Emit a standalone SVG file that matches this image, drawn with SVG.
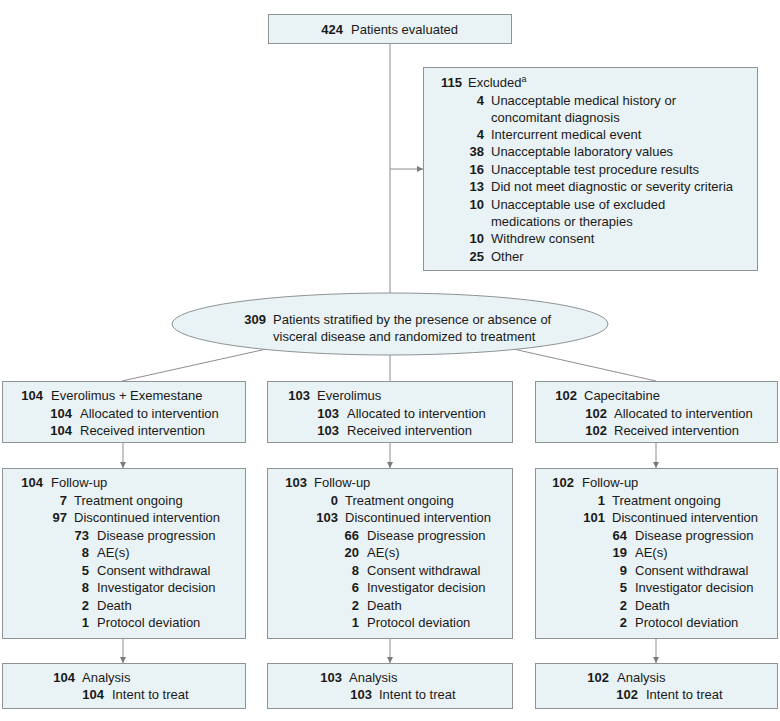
<svg xmlns="http://www.w3.org/2000/svg" width="780" height="721" viewBox="0 0 780 721">
<style>
.box{fill:#e9f2f4;stroke:#8e9394;stroke-width:1}
.ln{stroke:#8e8e8e;stroke-width:1;fill:none}
text{font-family:"Liberation Sans",Arial,sans-serif;font-size:13px;fill:#1a1a1a}
.n{font-weight:bold;text-anchor:end}
</style>
<defs>
<marker id="ah" viewBox="0 0 10 10" refX="10" refY="5" markerWidth="6" markerHeight="6" markerUnits="userSpaceOnUse" orient="auto">
<path d="M0,0 L10,5 L0,10 z" fill="#7a7a7a"/>
</marker>
</defs>
<rect width="780" height="721" fill="#ffffff"/>
<g id="connectors">
<line class="ln" x1="390" y1="43" x2="390" y2="300"/>
<line class="ln" x1="390" y1="169" x2="423" y2="169" marker-end="url(#ah)"/>
<line class="ln" x1="390" y1="350" x2="390" y2="381"/>
<line class="ln" x1="280" y1="346" x2="122" y2="381"/>
<line class="ln" x1="500" y1="346" x2="656" y2="381"/>
<line class="ln" x1="123" y1="442" x2="123" y2="468" marker-end="url(#ah)"/>
<line class="ln" x1="390" y1="442" x2="390" y2="468" marker-end="url(#ah)"/>
<line class="ln" x1="656" y1="442" x2="656" y2="468" marker-end="url(#ah)"/>
<line class="ln" x1="123" y1="638" x2="123" y2="663" marker-end="url(#ah)"/>
<line class="ln" x1="390" y1="638" x2="390" y2="663" marker-end="url(#ah)"/>
<line class="ln" x1="656" y1="638" x2="656" y2="663" marker-end="url(#ah)"/>
</g>
<g id="evaluated">
<rect class="box" x="268.5" y="14.5" width="243" height="29"/>
<text class="n" x="343" y="34">424</text><text x="351" y="34">Patients evaluated</text>
</g>
<g id="excluded">
<rect class="box" x="423.5" y="67.5" width="334" height="203"/>
<text class="n" x="462" y="87">115</text><text x="468" y="87">Excluded<tspan font-size="9" dy="-5">a</tspan></text>
<text class="n" x="484" y="104.5">4</text><text x="491" y="104.5">Unacceptable medical history or</text>
<text x="491" y="121.8">concomitant diagnosis</text>
<text class="n" x="484" y="139">4</text><text x="491" y="139">Intercurrent medical event</text>
<text class="n" x="484" y="156.4">38</text><text x="491" y="156.4">Unacceptable laboratory values</text>
<text class="n" x="484" y="173.8">16</text><text x="491" y="173.8">Unacceptable test procedure results</text>
<text class="n" x="484" y="191.2">13</text><text x="491" y="191.2">Did not meet diagnostic or severity criteria</text>
<text class="n" x="484" y="208.6">10</text><text x="491" y="208.6">Unacceptable use of excluded</text>
<text x="491" y="226">medications or therapies</text>
<text class="n" x="484" y="243.4">10</text><text x="491" y="243.4">Withdrew consent</text>
<text class="n" x="484" y="260.8">25</text><text x="491" y="260.8">Other</text>
</g>
<g id="randomized">
<ellipse class="box" cx="390" cy="324" rx="218" ry="31"/>
<text class="n" x="266" y="324">309</text><text x="273" y="324">Patients stratified by the presence or absence of</text>
<text x="273" y="341">visceral disease and randomized to treatment</text>
</g>
<g id="arm1">
<rect class="box" x="2.5" y="381.5" width="243" height="61"/>
<text class="n" x="43" y="400">104</text><text x="51" y="400">Everolimus + Exemestane</text>
<text class="n" x="72" y="417.5">104</text><text x="80" y="417.5">Allocated to intervention</text>
<text class="n" x="72" y="435">104</text><text x="80" y="435">Received intervention</text>
</g>
<g id="arm2">
<rect class="box" x="267.5" y="381.5" width="245" height="61"/>
<text class="n" x="310" y="400">103</text><text x="317" y="400">Everolimus</text>
<text class="n" x="339" y="417.5">103</text><text x="347" y="417.5">Allocated to intervention</text>
<text class="n" x="339" y="435">103</text><text x="347" y="435">Received intervention</text>
</g>
<g id="arm3">
<rect class="box" x="535.5" y="381.5" width="242" height="61"/>
<text class="n" x="577" y="400">102</text><text x="584" y="400">Capecitabine</text>
<text class="n" x="607" y="417.5">102</text><text x="614" y="417.5">Allocated to intervention</text>
<text class="n" x="607" y="435">102</text><text x="614" y="435">Received intervention</text>
</g>
<g id="followup1">
<rect class="box" x="2.5" y="468.5" width="243" height="170"/>
<text class="n" x="43" y="487">104</text><text x="51" y="487">Follow-up</text>
<text class="n" x="67" y="504.5">7</text><text x="74" y="504.5">Treatment ongoing</text>
<text class="n" x="67" y="522">97</text><text x="74" y="522">Discontinued intervention</text>
<text class="n" x="89" y="539.5">73</text><text x="97" y="539.5">Disease progression</text>
<text class="n" x="89" y="557">8</text><text x="97" y="557">AE(s)</text>
<text class="n" x="89" y="574.5">5</text><text x="97" y="574.5">Consent withdrawal</text>
<text class="n" x="89" y="592">8</text><text x="97" y="592">Investigator decision</text>
<text class="n" x="89" y="609.5">2</text><text x="97" y="609.5">Death</text>
<text class="n" x="89" y="627">1</text><text x="97" y="627">Protocol deviation</text>
</g>
<g id="followup2">
<rect class="box" x="267.5" y="468.5" width="245" height="170"/>
<text class="n" x="307" y="487">103</text><text x="314" y="487">Follow-up</text>
<text class="n" x="338" y="504.5">0</text><text x="345" y="504.5">Treatment ongoing</text>
<text class="n" x="338" y="522">103</text><text x="345" y="522">Discontinued intervention</text>
<text class="n" x="359" y="539.5">66</text><text x="367" y="539.5">Disease progression</text>
<text class="n" x="359" y="557">20</text><text x="367" y="557">AE(s)</text>
<text class="n" x="359" y="574.5">8</text><text x="367" y="574.5">Consent withdrawal</text>
<text class="n" x="359" y="592">6</text><text x="367" y="592">Investigator decision</text>
<text class="n" x="359" y="609.5">2</text><text x="367" y="609.5">Death</text>
<text class="n" x="359" y="627">1</text><text x="367" y="627">Protocol deviation</text>
</g>
<g id="followup3">
<rect class="box" x="535.5" y="468.5" width="242" height="170"/>
<text class="n" x="574" y="487">102</text><text x="582" y="487">Follow-up</text>
<text class="n" x="605" y="504.5">1</text><text x="612" y="504.5">Treatment ongoing</text>
<text class="n" x="605" y="522">101</text><text x="612" y="522">Discontinued intervention</text>
<text class="n" x="627" y="539.5">64</text><text x="635" y="539.5">Disease progression</text>
<text class="n" x="627" y="557">19</text><text x="635" y="557">AE(s)</text>
<text class="n" x="627" y="574.5">9</text><text x="635" y="574.5">Consent withdrawal</text>
<text class="n" x="627" y="592">5</text><text x="635" y="592">Investigator decision</text>
<text class="n" x="627" y="609.5">2</text><text x="635" y="609.5">Death</text>
<text class="n" x="627" y="627">2</text><text x="635" y="627">Protocol deviation</text>
</g>
<g id="analysis1">
<rect class="box" x="2.5" y="663.5" width="243" height="45"/>
<text class="n" x="75" y="682">104</text><text x="82" y="682">Analysis</text>
<text class="n" x="104" y="699">104</text><text x="112" y="699">Intent to treat</text>
</g>
<g id="analysis2">
<rect class="box" x="267.5" y="663.5" width="245" height="45"/>
<text class="n" x="342" y="682">103</text><text x="349" y="682">Analysis</text>
<text class="n" x="372" y="699">103</text><text x="379" y="699">Intent to treat</text>
</g>
<g id="analysis3">
<rect class="box" x="535.5" y="663.5" width="242" height="45"/>
<text class="n" x="609" y="682">102</text><text x="617" y="682">Analysis</text>
<text class="n" x="638" y="699">102</text><text x="646" y="699">Intent to treat</text>
</g>
</svg>
